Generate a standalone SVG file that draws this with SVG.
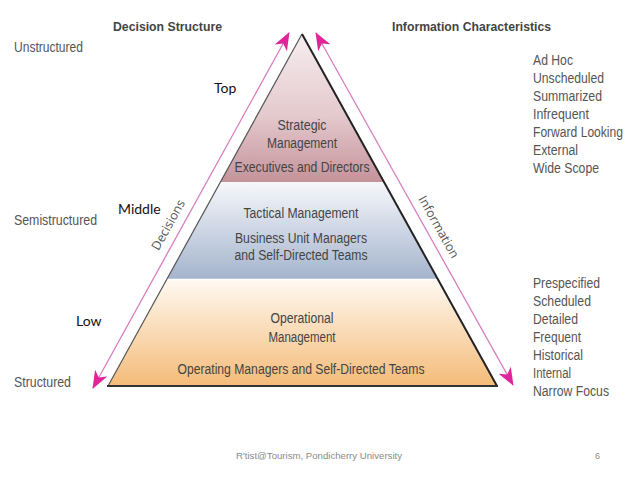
<svg xmlns="http://www.w3.org/2000/svg" width="638" height="479" viewBox="0 0 638 479">
  <style>
    .hd { font-family: "Liberation Sans", Arial, sans-serif; font-weight: bold; font-size: 13.5px; fill: #444; }
    .side { font-family: "Liberation Sans", Arial, sans-serif; font-size: 14px; fill: #555; }
    .lvl { font-family: "Liberation Sans", Arial, sans-serif; font-size: 14px; fill: #444; text-anchor: middle; }
    .cal { font-family: Lato, "Open Sans", sans-serif; font-size: 14px; fill: #111; }
    .rot { font-family: "Open Sans", "Liberation Sans", sans-serif; font-size: 12.5px; fill: #555; text-anchor: middle; }
    .foot { font-family: "Liberation Sans", Arial, sans-serif; font-size: 9px; fill: #8a8a8a; }
    .arrow { stroke: #d77fbf; stroke-width: 1.3; fill: none; marker-start: url(#ah); marker-end: url(#ah); }
  </style>
  <defs>
    <linearGradient id="gS" gradientUnits="userSpaceOnUse" x1="0" y1="34" x2="0" y2="182">
      <stop offset="0" stop-color="#f6eef0"/>
      <stop offset="0.55" stop-color="#e4c9cd"/>
      <stop offset="1" stop-color="#c4939a"/>
    </linearGradient>
    <linearGradient id="gT" gradientUnits="userSpaceOnUse" x1="0" y1="182" x2="0" y2="279">
      <stop offset="0" stop-color="#f6f7fb"/>
      <stop offset="1" stop-color="#a4b4cd"/>
    </linearGradient>
    <linearGradient id="gO" gradientUnits="userSpaceOnUse" x1="0" y1="279" x2="0" y2="386">
      <stop offset="0" stop-color="#fff9f2"/>
      <stop offset="1" stop-color="#f4bb78"/>
    </linearGradient>
    <marker id="ah" viewBox="0 0 18 14" refX="17" refY="7" markerWidth="18" markerHeight="14" markerUnits="userSpaceOnUse" orient="auto-start-reverse">
      <path d="M0,0 L18,7 L0,14 L5,7 Z" fill="#e0259a"/>
    </marker>
  </defs>

  <rect x="0" y="0" width="638" height="479" fill="#ffffff"/>

  <!-- Headings -->
  <text class="hd" x="113" y="31" textLength="109" lengthAdjust="spacingAndGlyphs">Decision Structure</text>
  <text class="hd" x="392" y="31" textLength="159" lengthAdjust="spacingAndGlyphs">Information Characteristics</text>

  <!-- Left labels -->
  <text class="side" x="14" y="52" textLength="69" lengthAdjust="spacingAndGlyphs">Unstructured</text>
  <text class="side" x="14" y="225" textLength="83" lengthAdjust="spacingAndGlyphs">Semistructured</text>
  <text class="side" x="14" y="387" textLength="57" lengthAdjust="spacingAndGlyphs">Structured</text>

  <text class="cal" x="214" y="93">Top</text>
  <text class="cal" x="118" y="214">Middle</text>
  <text class="cal" x="76" y="326">Low</text>

  <!-- Right lists -->
  <g id="info-top">
    <text class="side" x="533" y="65" textLength="40" lengthAdjust="spacingAndGlyphs">Ad Hoc</text>
    <text class="side" x="533" y="83" textLength="71" lengthAdjust="spacingAndGlyphs">Unscheduled</text>
    <text class="side" x="533" y="101" textLength="69" lengthAdjust="spacingAndGlyphs">Summarized</text>
    <text class="side" x="533" y="119" textLength="56" lengthAdjust="spacingAndGlyphs">Infrequent</text>
    <text class="side" x="533" y="137" textLength="90" lengthAdjust="spacingAndGlyphs">Forward Looking</text>
    <text class="side" x="533" y="155" textLength="45" lengthAdjust="spacingAndGlyphs">External</text>
    <text class="side" x="533" y="173" textLength="66" lengthAdjust="spacingAndGlyphs">Wide Scope</text>
  </g>
  <g id="info-bottom">
    <text class="side" x="533" y="288" textLength="67" lengthAdjust="spacingAndGlyphs">Prespecified</text>
    <text class="side" x="533" y="306" textLength="58" lengthAdjust="spacingAndGlyphs">Scheduled</text>
    <text class="side" x="533" y="324" textLength="45" lengthAdjust="spacingAndGlyphs">Detailed</text>
    <text class="side" x="533" y="342" textLength="48" lengthAdjust="spacingAndGlyphs">Frequent</text>
    <text class="side" x="533" y="360" textLength="50" lengthAdjust="spacingAndGlyphs">Historical</text>
    <text class="side" x="533" y="378" textLength="38" lengthAdjust="spacingAndGlyphs">Internal</text>
    <text class="side" x="533" y="396" textLength="76" lengthAdjust="spacingAndGlyphs">Narrow Focus</text>
  </g>

  <!-- Pyramid levels -->
  <g id="strategic">
    <polygon points="302,34 384,182 220.4,182" fill="url(#gS)"/>
    <text class="lvl" x="302" y="130" textLength="49" lengthAdjust="spacingAndGlyphs">Strategic</text>
    <text class="lvl" x="302" y="148" textLength="70" lengthAdjust="spacingAndGlyphs">Management</text>
    <text class="lvl" x="302" y="172" textLength="135" lengthAdjust="spacingAndGlyphs">Executives and Directors</text>
  </g>
  <g id="tactical">
    <polygon points="220.4,182 384,182 437.7,279 167,279" fill="url(#gT)"/>
    <text class="lvl" x="301" y="218" textLength="115" lengthAdjust="spacingAndGlyphs">Tactical Management</text>
    <text class="lvl" x="301" y="243" textLength="132" lengthAdjust="spacingAndGlyphs">Business Unit Managers</text>
    <text class="lvl" x="301" y="260" textLength="133" lengthAdjust="spacingAndGlyphs">and Self-Directed Teams</text>
  </g>
  <g id="operational">
    <polygon points="167,279 437.7,279 497,386 108,386" fill="url(#gO)"/>
    <line x1="167" y1="279.5" x2="437.7" y2="279.5" stroke="#ffffff" stroke-width="1.5"/>
    <text class="lvl" x="302" y="323" textLength="63" lengthAdjust="spacingAndGlyphs">Operational</text>
    <text class="lvl" x="302" y="342" textLength="67" lengthAdjust="spacingAndGlyphs">Management</text>
    <text class="lvl" x="301" y="374" textLength="247" lengthAdjust="spacingAndGlyphs">Operating Managers and Self-Directed Teams</text>
  </g>

  <!-- Pyramid outline -->
  <g id="outline" fill="none">
    <line x1="302" y1="34" x2="108" y2="386" stroke="#555" stroke-width="1.2"/>
    <line x1="302" y1="34" x2="497" y2="386" stroke="#222" stroke-width="2"/>
    <line x1="107" y1="386" x2="498" y2="386" stroke="#333" stroke-width="2"/>
  </g>

  <!-- Connectors -->
  <g id="connectors">
    <line class="arrow" x1="93" y1="388" x2="289" y2="33"/>
    <line class="arrow" x1="316" y1="33" x2="513" y2="385"/>
  </g>

  <text class="rot" transform="translate(172,227) rotate(-61)">Decisions</text>
  <text class="rot" transform="translate(435,229) rotate(60.8)">Information</text>

  <!-- Footer -->
  <text class="foot" x="236" y="459" textLength="166" lengthAdjust="spacingAndGlyphs">R'tist@Tourism, Pondicherry University</text>
  <text class="foot" x="595" y="459">6</text>
</svg>
